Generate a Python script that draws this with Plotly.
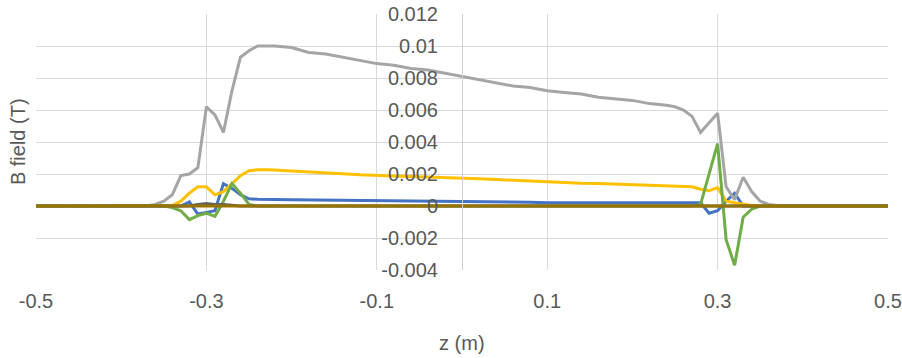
import plotly.graph_objects as go

# z positions (m)
z = [-0.5, -0.37, -0.36, -0.35, -0.34, -0.33, -0.32, -0.31, -0.30, -0.29, -0.28,
     -0.27, -0.26, -0.25, -0.24, -0.23, -0.22,
     -0.20, -0.18, -0.16, -0.14, -0.12, -0.10, -0.08, -0.06, -0.04, -0.02,
     0.00, 0.02, 0.04, 0.06, 0.08, 0.10, 0.12, 0.14, 0.16, 0.18, 0.20, 0.22, 0.24,
     0.25, 0.26, 0.27, 0.28, 0.29, 0.30, 0.31, 0.32, 0.33, 0.34, 0.35, 0.36, 0.37, 0.5]

b_blue = [0, 0, 0, 0, 0, 0.0, 0.00025, -0.0005, -0.0004, -0.0003, 0.0014,
          0.0011, 0.0007, 0.00045, 0.00042, 0.0004, 0.0004,
          0.00039, 0.00038, 0.00037, 0.00036, 0.00035, 0.00034, 0.00032, 0.0003, 0.0003, 0.0003,
          0.0003, 0.0003, 0.00028, 0.00026, 0.00023, 0.0002, 0.0002, 0.0002, 0.0002, 0.0002, 0.0002, 0.0002, 0.0002,
          0.0002, 0.0002, 0.0002, 0.0002, -0.00045, -0.0003, 0.0003, 0.0008, 0.0, 0, 0, 0, 0, 0]

b_gray = [0, 0.00002, 0.0001, 0.0003, 0.0007, 0.0019, 0.0020, 0.0024, 0.0062, 0.0057, 0.0046,
          0.0072, 0.0093, 0.0097, 0.0100, 0.0100, 0.0100,
          0.0099, 0.0096, 0.0095, 0.0093, 0.0091, 0.0089, 0.0088, 0.0086, 0.0085, 0.0083,
          0.0081, 0.0079, 0.0077, 0.0075, 0.0074, 0.0072, 0.0071, 0.0070, 0.0068, 0.0067, 0.0066, 0.0064, 0.0063,
          0.0062, 0.0060, 0.0056, 0.0046, 0.0052, 0.0058, 0.0012, 0.0004, 0.0018, 0.0009, 0.0003, 0.0001, 0.00003, 0]

b_yellow = [0, 0, 0, 0, 0.00003, 0.0003, 0.0008, 0.0012, 0.0012, 0.0007, 0.0009,
            0.0014, 0.0019, 0.0022, 0.00226, 0.00226, 0.00225,
            0.00218, 0.00214, 0.0021, 0.00202, 0.00195, 0.0019, 0.00188, 0.00185, 0.00182, 0.0018,
            0.00176, 0.0017, 0.00165, 0.0016, 0.00155, 0.0015, 0.00145, 0.00142, 0.0014, 0.00137, 0.00135, 0.0013, 0.00128,
            0.00127, 0.00125, 0.0012, 0.00105, 0.00095, 0.00115, 0.0003, 0.0002, 0.0001, 0.00004, 0, 0, 0, 0]

b_green = [0, 0, 0, 0, -0.0001, -0.0003, -0.00085, -0.0006, -0.00045, -0.00065, 0.0003,
           0.0014, 0.0008, 0.0001, 0, 0, 0,
           0, 0, 0, 0, 0, 0, 0, 0, 0, 0,
           0, 0, 0, 0, 0, 0, 0, 0, 0, 0, 0, 0, 0,
           0, 0, 0, 0.0001, 0.0020, 0.0039, -0.0021, -0.0037, -0.0007, -0.0002, 0, 0, 0, 0]

b_dark = [0, 0, 0, 0, 0, 0, 0, 0.0001, 0.00015, 0.0001, 0.0001,
          0.00005, 0, 0, 0, 0, 0,
          0, 0, 0, 0, 0, 0, 0, 0, 0, 0,
          0, 0, 0, 0, 0, 0, 0, 0, 0, 0, 0, 0, 0,
          0, 0, 0, 0, 0, 0, 0, 0, 0, 0, 0, 0, 0, 0]

b_brown = [0] * len(z)

x_ticks = [-0.5, -0.3, -0.1, 0.1, 0.3, 0.5]
x_labels = ["-0.5", "-0.3", "-0.1", "0.1", "0.3", "0.5"]
y_ticks = [-0.004, -0.002, 0, 0.002, 0.004, 0.006, 0.008, 0.01, 0.012]
y_labels = ["-0.004", "-0.002", "0", "0.002", "0.004", "0.006", "0.008", "0.01", "0.012"]

series = [
    (b_blue, "#4472C4"),
    (b_gray, "#A5A5A5"),
    (b_yellow, "#FFC000"),
    (b_green, "#70AD47"),
    (b_dark, "#636363"),
    (b_brown, "#997300"),
]

fig = go.Figure()
for vals, col in series:
    fig.add_trace(go.Scatter(x=z, y=vals, mode="lines",
                             line=dict(color=col, width=3), showlegend=False))

font = dict(family="Liberation Sans, Arial, sans-serif", size=20, color="#595959")

fig.update_layout(
    width=902, height=358,
    margin=dict(l=36, r=14, t=14, b=88),
    paper_bgcolor="white", plot_bgcolor="white",
    font=font,
    xaxis=dict(range=[-0.5, 0.5], tickvals=x_ticks, ticktext=x_labels,
               showgrid=True, gridcolor="#D9D9D9", gridwidth=1,
               zeroline=False, showline=False, ticks="", automargin=False,
               ticklabelstandoff=17, tickfont=font),
    yaxis=dict(range=[-0.004, 0.012], tickvals=y_ticks, ticktext=y_labels,
               showgrid=True, gridcolor="#D9D9D9", gridwidth=1,
               zeroline=False, showline=True, linecolor="#D0D0D0", linewidth=1,
               anchor="free", position=0.5, ticks="", automargin=False,
               ticklabelstandoff=20, tickfont=font),
    annotations=[
        dict(text="z (m)", xref="paper", yref="paper", x=0.5, y=-0.285,
             xanchor="center", yanchor="middle", showarrow=False, font=font),
        dict(text="B field (T)", xref="paper", yref="paper", x=-0.021, y=0.5,
             xanchor="center", yanchor="middle", textangle=-90, showarrow=False, font=font),
    ],
)

# remove the browser's default 8px body margin so the figure fills the window exactly
fig.write_html("out.html", config={"displayModeBar": False},
               post_script="document.body.style.margin='0';")
